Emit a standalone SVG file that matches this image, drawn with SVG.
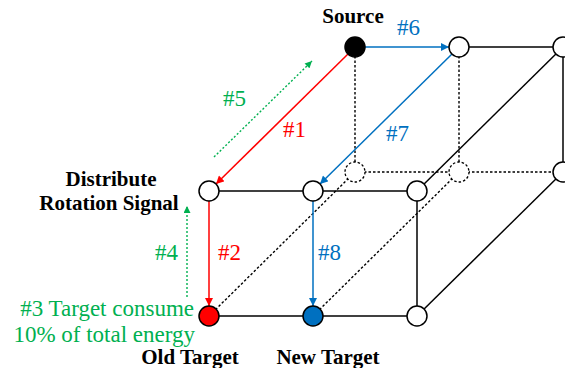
<svg xmlns="http://www.w3.org/2000/svg" width="565" height="368" viewBox="0 0 565 368">
<style>
.solid{stroke:#000;stroke-width:1.5;fill:none}
.dot{stroke:#000;stroke-width:1.4;stroke-dasharray:2.5,2;fill:none}
.node{fill:#fff;stroke:#000;stroke-width:1.5}
.dnode{fill:#fff;stroke:#000;stroke-width:1.3;stroke-dasharray:2.5,2}
.red{stroke:#FF0000;stroke-width:1.5;fill:none}
.blue{stroke:#0070C0;stroke-width:1.5;fill:none}
.green{stroke:#00B050;stroke-width:1.4;stroke-dasharray:2,2;fill:none}
.lbl{font-family:"Liberation Serif","Times New Roman",serif;font-size:23px}
.bold{font-family:"Liberation Serif","Times New Roman",serif;font-size:21px;font-weight:bold;fill:#000}
</style>
<defs>
<marker id="ar" viewBox="0 0 10 10" refX="10" refY="5" markerWidth="9" markerHeight="8" markerUnits="userSpaceOnUse" orient="auto"><path d="M0,0 L10,5 L0,10 z" fill="#FF0000"/></marker>
<marker id="ab" viewBox="0 0 10 10" refX="10" refY="5" markerWidth="9" markerHeight="8" markerUnits="userSpaceOnUse" orient="auto"><path d="M0,0 L10,5 L0,10 z" fill="#0070C0"/></marker>
<marker id="ag" viewBox="0 0 10 10" refX="10" refY="5" markerWidth="8" markerHeight="7" markerUnits="userSpaceOnUse" orient="auto"><path d="M0,0 L10,5 L0,10 z" fill="#00B050"/></marker>
</defs>
<g id="connectors">
<line class="dot" x1="355" y1="47" x2="355" y2="172"/>
<line class="dot" x1="459" y1="47" x2="459" y2="172"/>
<line class="dot" x1="355" y1="172" x2="563" y2="172"/>
<line class="solid" x1="459" y1="47" x2="563" y2="47"/>
<line class="solid" x1="563" y1="47" x2="563" y2="172"/>
<line class="dot" x1="209" y1="316" x2="355" y2="172"/>
<line class="dot" x1="313" y1="316" x2="459" y2="172"/>
<line class="solid" x1="417" y1="316" x2="563" y2="172"/>
<line class="solid" x1="417" y1="191" x2="563" y2="47"/>
<line class="solid" x1="209" y1="191" x2="417" y2="191"/>
<line class="solid" x1="209" y1="316" x2="417" y2="316"/>
<line class="solid" x1="417" y1="191" x2="417" y2="316"/>
<line class="red" x1="348" y1="54" x2="216" y2="184" marker-end="url(#ar)"/>
<line class="red" x1="209" y1="201" x2="209" y2="306" marker-end="url(#ar)"/>
<line class="blue" x1="365" y1="47" x2="449" y2="47" marker-end="url(#ab)"/>
<line class="blue" x1="452" y1="54" x2="320" y2="184" marker-end="url(#ab)"/>
<line class="blue" x1="313" y1="201" x2="313" y2="306" marker-end="url(#ab)"/>
<line class="green" x1="214" y1="157" x2="312" y2="61" marker-end="url(#ag)"/>
<line class="green" x1="187" y1="297" x2="187" y2="206" marker-end="url(#ag)"/>
</g>
<g id="n-back-b1"><circle class="dnode" cx="355" cy="172" r="10"/></g>
<g id="n-back-b2"><circle class="dnode" cx="459" cy="172" r="10"/></g>
<g id="n-back-b3"><circle class="node" cx="563" cy="172" r="10"/></g>
<g id="n-source"><circle cx="355" cy="47" r="10" fill="#000" stroke="#000" stroke-width="1.5"/><text class="bold" x="353" y="23" text-anchor="middle">Source</text></g>
<g id="n-back-t2"><circle class="node" cx="459" cy="47" r="10"/></g>
<g id="n-back-t3"><circle class="node" cx="563" cy="47" r="10"/></g>
<g id="n-distribute"><circle class="node" cx="209" cy="191" r="10"/><text class="bold" x="111" y="186" text-anchor="middle">Distribute</text><text class="bold" x="109" y="210" text-anchor="middle">Rotation Signal</text></g>
<g id="n-front-t2"><circle class="node" cx="313" cy="191" r="10"/></g>
<g id="n-front-t3"><circle class="node" cx="417" cy="191" r="10"/></g>
<g id="n-old"><circle cx="209" cy="316" r="10" fill="#FF0000" stroke="#000" stroke-width="1.5"/><text class="bold" x="190" y="364" text-anchor="middle">Old Target</text></g>
<g id="n-new"><circle cx="313" cy="316" r="10" fill="#0070C0" stroke="#000" stroke-width="1.5"/><text class="bold" x="328" y="364" text-anchor="middle">New Target</text></g>
<g id="n-front-b3"><circle class="node" cx="417" cy="316" r="10"/></g>
<g id="labels">
<text class="lbl" x="283" y="137" fill="#FF0000">#1</text>
<text class="lbl" x="218" y="260" fill="#FF0000">#2</text>
<text class="lbl" x="194" y="316" fill="#00B050" text-anchor="end">#3 Target consume</text>
<text class="lbl" x="195" y="342" fill="#00B050" text-anchor="end">10% of total energy</text>
<text class="lbl" x="155" y="260" fill="#00B050">#4</text>
<text class="lbl" x="223" y="106" fill="#00B050">#5</text>
<text class="lbl" x="397" y="35" fill="#0070C0">#6</text>
<text class="lbl" x="386" y="141" fill="#0070C0">#7</text>
<text class="lbl" x="318" y="260" fill="#0070C0">#8</text>
</g>
</svg>
